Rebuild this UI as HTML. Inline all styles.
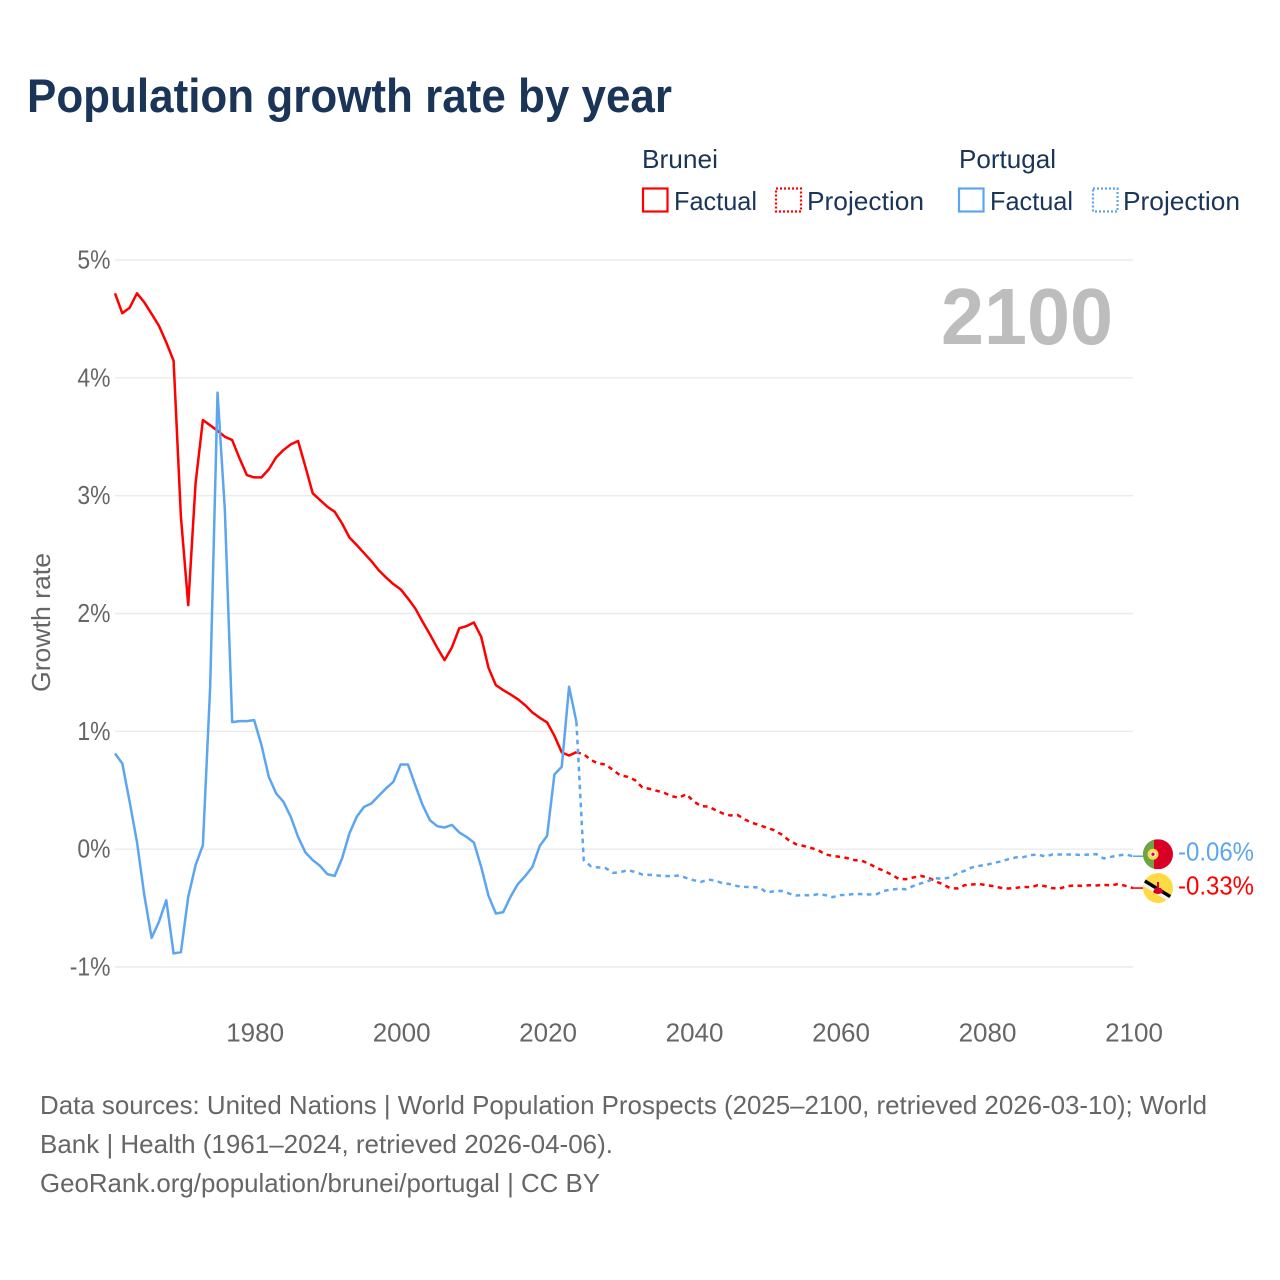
<!DOCTYPE html>
<html lang="en">
<head>
<meta charset="utf-8">
<title>Population growth rate by year</title>
<style>
html,body{margin:0;padding:0;background:#fff;width:1280px;height:1280px;overflow:hidden}
svg{display:block}
text{font-family:"Liberation Sans",sans-serif}
</style>
</head>
<body>
<svg id="chart" xmlns="http://www.w3.org/2000/svg" width="1280" height="1280" viewBox="0 0 1280 1280">
  <rect x="0" y="0" width="1280" height="1280" fill="#ffffff"/>
  <text x="27" y="112" font-size="47" font-weight="700" fill="#1a3557" textLength="645" lengthAdjust="spacingAndGlyphs">Population growth rate by year</text>

  <g font-size="26" fill="#1a3557">
    <text x="642" y="168" textLength="76" lengthAdjust="spacingAndGlyphs">Brunei</text>
    <rect x="643" y="188.5" width="24.5" height="23" fill="none" stroke="#ff0000" stroke-width="2.2"/>
    <text x="674" y="210" textLength="83" lengthAdjust="spacingAndGlyphs">Factual</text>
    <rect x="776" y="188.5" width="25" height="23" fill="none" stroke="#ff0000" stroke-width="2.2" stroke-dasharray="2 2"/>
    <text x="807" y="210" textLength="117" lengthAdjust="spacingAndGlyphs">Projection</text>
    <text x="959" y="168" textLength="97" lengthAdjust="spacingAndGlyphs">Portugal</text>
    <rect x="959" y="188.5" width="24.5" height="23" fill="none" stroke="#5ca5ef" stroke-width="2.2"/>
    <text x="990" y="210" textLength="83" lengthAdjust="spacingAndGlyphs">Factual</text>
    <rect x="1093" y="188.5" width="24.5" height="23" fill="none" stroke="#5ca5ef" stroke-width="2.2" stroke-dasharray="2 2"/>
    <text x="1123" y="210" textLength="117" lengthAdjust="spacingAndGlyphs">Projection</text>
  </g>

  <text transform="translate(50,692) rotate(-90)" font-size="26" fill="#666666" textLength="139" lengthAdjust="spacingAndGlyphs">Growth rate</text>
  <text x="941" y="344" font-size="80" font-weight="700" fill="#bdbdbd" textLength="172" lengthAdjust="spacingAndGlyphs">2100</text>

  <g id="grid"></g>
  <g id="yticks" font-size="26" fill="#666666" text-anchor="end"></g>
  <g id="xticks" font-size="26" fill="#666666" text-anchor="middle"></g>
  <g id="series"></g>

  <g id="flag-portugal">
    <clipPath id="clip-pt"><circle cx="0" cy="0" r="15"/></clipPath>
    <g clip-path="url(#clip-pt)">
      <rect x="-15" y="-15" width="30" height="30" fill="#d80027"/>
      <rect x="-15" y="-15" width="11" height="30" fill="#6da544"/>
    </g>
    <circle cx="-5" cy="0" r="5.5" fill="#ffda44"/>
    <circle cx="-5" cy="0" r="3" fill="#f0f0f0"/>
    <circle cx="-5" cy="0" r="1.6" fill="#d80027"/>
  </g>
  <g id="flag-brunei">
    <clipPath id="clip-bn"><circle cx="0" cy="0" r="15"/></clipPath>
    <g clip-path="url(#clip-bn)">
      <rect x="-15" y="-15" width="30" height="30" fill="#ffda44"/>
      <path d="M-18,-9 L18,13 L18,18 L-18,-4 Z" fill="#f0f0f0"/>
      <path d="M-18,-12 L18,10 L18,14 L-18,-8 Z" fill="#000000"/>
      <path d="M-5,4 Q0,8 5,4 L3,0 L1,0 L1,-6 L-1,-6 L-1,0 L-3,0 Z" fill="#d80027"/>
    </g>
  </g>
  <text id="label-portugal" x="1178" font-size="26" fill="#5ca5ef" textLength="76" lengthAdjust="spacingAndGlyphs"></text>
  <text id="label-brunei" x="1178" font-size="26" fill="#ff0000" textLength="76" lengthAdjust="spacingAndGlyphs"></text>

  <g font-size="26" fill="#666666">
    <text x="40" y="1114" textLength="1167" lengthAdjust="spacingAndGlyphs">Data sources: United Nations | World Population Prospects (2025–2100, retrieved 2026-03-10); World</text>
    <text x="40" y="1153" textLength="573" lengthAdjust="spacingAndGlyphs">Bank | Health (1961–2024, retrieved 2026-04-06).</text>
    <text x="40" y="1192" textLength="560" lengthAdjust="spacingAndGlyphs">GeoRank.org/population/brunei/portugal | CC BY</text>
  </g>
</svg>
<script>
const yTickValues = [5, 4, 3, 2, 1, 0, -1];
const yTickLabels = ['5%', '4%', '3%', '2%', '1%', '0%', '-1%'];
const xTickYears = [1980, 2000, 2020, 2040, 2060, 2080, 2100];
const xTickLabels = ['1980', '2000', '2020', '2040', '2060', '2080', '2100'];
const factualStartYear = 1961;
const projectionStartYear = 2024;

const bruneiFactual = [4.717,4.548,4.595,4.717,4.641,4.542,4.442,4.301,4.145,2.821,2.071,3.104,3.642,3.597,3.551,3.500,3.472,3.317,3.175,3.155,3.155,3.223,3.325,3.387,3.435,3.464,3.245,3.020,2.963,2.906,2.863,2.765,2.646,2.581,2.513,2.445,2.368,2.306,2.250,2.205,2.128,2.043,1.930,1.823,1.709,1.604,1.712,1.874,1.893,1.924,1.802,1.539,1.392,1.350,1.313,1.273,1.222,1.160,1.115,1.076,0.962,0.821,0.795,0.823];

const bruneiProjection = [0.823,.806,.756,.727,.719,.671,.626,.614,.586,.524,.512,.495,.478,.450,.436,.467,.407,.365,.362,.331,.303,.286,.291,.252,.223,.204,.181,.161,.125,.076,.042,.028,.011,-.008,-.045,-.057,-.065,-.076,-.093,-.099,-.125,-.159,-.184,-.215,-.252,-.255,-.240,-.227,-.240,-.272,-.297,-.329,-.334,-.306,-.300,-.295,-.306,-.314,-.329,-.334,-.329,-.320,-.323,-.306,-.314,-.331,-.334,-.314,-.308,-.312,-.306,-.308,-.303,-.308,-.295,-.312,-.33];

const portugalFactual = [0.812,0.727,0.402,0.062,-0.390,-0.753,-0.617,-0.433,-0.885,-0.874,-0.405,-0.136,0.034,1.385,3.874,2.878,1.078,1.087,1.087,1.095,0.883,0.614,0.473,0.402,0.274,0.104,-0.028,-0.093,-0.142,-0.212,-0.227,-0.079,0.133,0.274,0.359,0.388,0.452,0.515,0.571,0.719,0.719,0.543,0.374,0.246,0.195,0.184,0.206,0.142,0.104,0.057,-0.150,-0.396,-0.546,-0.535,-0.405,-0.297,-0.229,-0.150,0.028,0.113,0.634,0.699,1.378,1.081];

const portugalProjection = [1.081,-.093,-.147,-.155,-.161,-.201,-.195,-.178,-.193,-.215,-.218,-.223,-.227,-.229,-.223,-.244,-.263,-.278,-.257,-.269,-.289,-.297,-.314,-.320,-.323,-.325,-.368,-.357,-.354,-.376,-.393,-.390,-.393,-.382,-.390,-.407,-.390,-.388,-.379,-.382,-.385,-.382,-.354,-.342,-.337,-.340,-.312,-.291,-.272,-.246,-.252,-.240,-.206,-.184,-.155,-.142,-.133,-.116,-.104,-.085,-.070,-.068,-.051,-.045,-.062,-.045,-.045,-.045,-.045,-.051,-.045,-.042,-.079,-.065,-.053,-.045,-.06];

const SVG_NS = 'http://www.w3.org/2000/svg';
const RED = '#ff0000';
const BLUE = '#5ca5ef';

function xScale(year) {
  return 115 + (year - 1961) * (1133 - 115) / (2100 - 1961);
}
function yScale(value) {
  return 967 - (value + 1) * (967 - 260) / 6;
}
function make(tag, parent) {
  const el = document.createElementNS(SVG_NS, tag);
  parent.appendChild(el);
  return el;
}
function linePath(values, startYear) {
  return values.map(function (v, i) {
    return (i ? 'L' : 'M') + xScale(startYear + i).toFixed(2) + ',' + yScale(v).toFixed(2);
  }).join(' ');
}

const gridGroup = document.getElementById('grid');
const yTickGroup = document.getElementById('yticks');
const xTickGroup = document.getElementById('xticks');
const seriesGroup = document.getElementById('series');

yTickValues.forEach(function (value, i) {
  const gridLine = make('line', gridGroup);
  
  
  gridLine.setAttribute('x1', xScale(1961));
  gridLine.setAttribute('x2', xScale(2100));
  gridLine.setAttribute('y1', yScale(value));
  gridLine.setAttribute('y2', yScale(value));
  gridLine.setAttribute('stroke', '#ebebeb');
  gridLine.setAttribute('stroke-width', '1.4');

  const label = make('text', yTickGroup);
  
  
  label.setAttribute('x', '110.5');
  label.setAttribute('y', yScale(value) + 8.5);
  label.textContent = yTickLabels[i];
  label.setAttribute('textLength', (label.getComputedTextLength() * 0.88).toFixed(1));
  label.setAttribute('lengthAdjust', 'spacingAndGlyphs');
});

xTickYears.forEach(function (year, i) {
  const label = make('text', xTickGroup);
  
  
  label.setAttribute('x', xScale(year) + 1);
  label.setAttribute('y', '1041.5');
  label.textContent = xTickLabels[i];
});

function drawSeries(values, startYear, color, dashed, name) {
  const path = make('path', seriesGroup);
  
  
  path.setAttribute('d', linePath(values, startYear));
  path.setAttribute('fill', 'none');
  path.setAttribute('stroke', color);
  path.setAttribute('stroke-width', '2.5');
  path.setAttribute('stroke-linejoin', 'round');
  if (dashed) path.setAttribute('stroke-dasharray', '4.6 4.4');
}
drawSeries(bruneiFactual, factualStartYear, RED, false, 'brunei-factual-line');
drawSeries(bruneiProjection, projectionStartYear, RED, true, 'brunei-projection-line');
drawSeries(portugalFactual, factualStartYear, BLUE, false, 'portugal-factual-line');
drawSeries(portugalProjection, projectionStartYear, BLUE, true, 'portugal-projection-line');

function drawEnd(values, color, flagId, labelId, name, flagOffset) {
  const last = values[values.length - 1];
  const yPos = yScale(last);
  const connector = make('line', seriesGroup);
  
  
  connector.setAttribute('x1', xScale(2100));
  connector.setAttribute('x2', xScale(2100) + 10);
  connector.setAttribute('y1', yPos);
  connector.setAttribute('y2', yPos);
  connector.setAttribute('stroke', color);
  connector.setAttribute('stroke-width', '1.6');
  document.getElementById(flagId).setAttribute('transform', 'translate(1158,' + (yPos + flagOffset) + ')');
  const label = document.getElementById(labelId);
  label.setAttribute('y', yPos + flagOffset + 6 + 0.5);
  label.textContent = last.toFixed(2) + '%';
}
drawEnd(portugalProjection, BLUE, 'flag-portugal', 'label-portugal', 'portugal-end-connector', -2);
drawEnd(bruneiProjection, RED, 'flag-brunei', 'label-brunei', 'brunei-end-connector', 0);
</script>
</body>
</html>
